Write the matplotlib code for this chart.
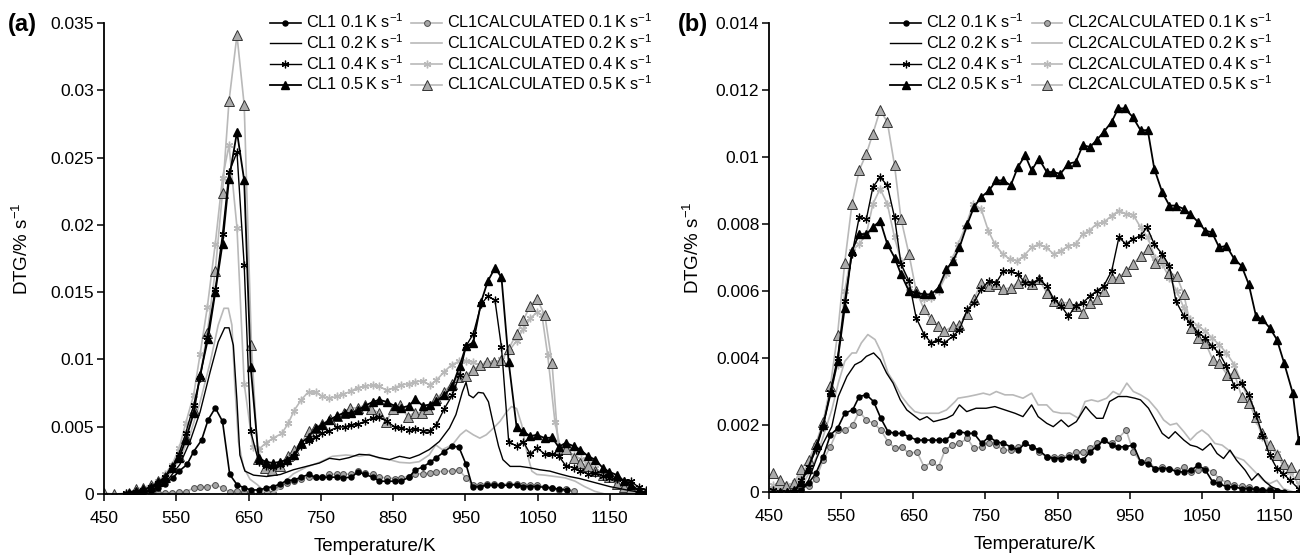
import matplotlib
matplotlib.use("Agg")
import matplotlib.pyplot as plt
import numpy as np
from matplotlib.ticker import FuncFormatter, MultipleLocator

plt.rcParams["font.family"] = ["Liberation Sans", "DejaVu Sans"]
plt.rcParams["mathtext.fontset"] = "custom"
plt.rcParams["mathtext.rm"] = "Liberation Sans"
plt.rcParams["mathtext.default"] = "regular"

# ---- data, DTG in units of 1e-3 %/s ----
# panel (a): CL1
cl1_01_T = [480, 490, 504, 515, 525, 534, 545, 554, 565, 574,
            585, 594, 604, 614, 624, 634, 644, 654, 665, 674,
            684, 694, 703, 713, 723, 733, 743, 752, 762, 772,
            781, 792, 802, 811, 822, 831, 841, 852, 861, 872,
            881, 891, 901, 910, 921, 931, 941, 951, 960, 970,
            980, 990, 1000, 1010, 1021, 1030, 1040, 1049, 1060, 1070,
            1080, 1090]
cl1_01_v = [0, 0.05, 0.15, 0.25, 0.45, 0.75, 1.2, 1.7, 2.2, 3.15,
            4.0, 5.5, 6.4, 5.4, 1.45, 0.7, 0.45, 0.3, 0.3, 0.45,
            0.55, 0.75, 1.0, 1.05, 1.25, 1.45, 1.25, 1.25, 1.25, 1.25,
            1.2, 1.25, 1.65, 1.45, 1.25, 0.95, 0.95, 0.95, 0.95, 1.25,
            1.8, 2.0, 2.35, 2.7, 3.15, 3.55, 3.5, 2.2, 0.5, 0.55,
            0.65, 0.65, 0.65, 0.65, 0.7, 0.55, 0.55, 0.55, 0.5, 0.45,
            0.35, 0.3]

cl1_02_T = [470, 495, 514, 537, 555, 569, 583, 597, 608, 617,
            623, 629, 634, 638, 645, 657, 675, 694, 712, 730,
            748, 762, 776, 789, 803, 817, 831, 845, 859, 873,
            886, 900, 914, 928, 937, 946, 951, 955, 961, 968,
            975, 982, 989, 996, 1002, 1012, 1026, 1039, 1053, 1067,
            1080, 1094, 1108, 1122, 1136, 1150, 1164, 1178, 1190, 1200]
cl1_02_v = [0, 0.1, 0.25, 0.95, 2.2, 3.9, 6.1, 9.1, 11.3, 12.35,
            12.35, 11.05, 6.9, 2.9, 1.7, 1.4, 1.3, 1.45, 1.8, 2.05,
            2.3, 2.65, 2.55, 2.7, 2.95, 2.9, 2.7, 2.55, 2.8, 2.65,
            2.9, 3.3, 3.9, 4.9, 5.9, 7.6, 8.3, 7.35, 7.15, 7.55,
            7.5, 6.85, 5.15, 3.55, 2.55, 2.05, 2.05, 1.95, 1.8, 1.7,
            1.5, 1.3, 1.15, 0.95, 0.75, 0.55, 0.4, 0.25, 0.15, 0.05]

cl1_04_T = [480, 494, 504, 515, 525, 534, 544, 554, 563, 574,
            583, 593, 604, 614, 623, 634, 644, 653, 664, 674,
            684, 694, 703, 713, 723, 733, 743, 752, 762, 772,
            783, 792, 802, 811, 822, 831, 841, 852, 861, 872,
            881, 891, 901, 910, 921, 932, 942, 951, 961, 972,
            981, 991, 1000, 1010, 1021, 1030, 1040, 1049, 1060, 1070,
            1079, 1089, 1100, 1109, 1120, 1130, 1140, 1149, 1160, 1170,
            1179, 1190, 1200]
cl1_04_v = [0.05, 0.15, 0.3, 0.5, 0.8, 1.3, 2.0, 3.0, 4.5, 6.6,
            8.6, 11.7, 15.2, 19.3, 23.9, 25.4, 17.0, 4.65, 2.4, 2.1,
            2.0, 2.15, 2.4, 2.8, 3.55, 3.95, 4.25, 4.5, 4.7, 4.95,
            5.0, 5.1, 5.2, 5.4, 5.65, 5.75, 5.4, 5.0, 4.9, 4.75,
            4.85, 4.7, 4.7, 5.15, 6.35, 7.35, 8.85, 11.0, 11.9, 14.1,
            14.7, 14.4, 10.9, 3.9, 3.55, 3.9, 2.95, 3.45, 2.95, 2.95,
            2.85, 2.1, 1.95, 1.7, 1.5, 1.55, 1.35, 1.2, 1.15, 0.95,
            0.95, 0.5, 0.3]

cl1_05_T = [485, 494, 504, 515, 525, 534, 544, 554, 563, 574,
            583, 594, 604, 614, 623, 634, 644, 653, 664, 674,
            684, 694, 703, 713, 723, 733, 743, 752, 762, 772,
            783, 792, 802, 811, 822, 831, 841, 852, 861, 872,
            881, 891, 901, 910, 921, 932, 942, 951, 961, 972,
            981, 991, 1000, 1010, 1021, 1030, 1040, 1049, 1060, 1070,
            1079, 1089, 1100, 1109, 1120, 1130, 1140, 1149, 1160, 1170,
            1179, 1190, 1200]
cl1_05_v = [0.1, 0.2, 0.35, 0.5, 0.9, 1.2, 1.9, 2.7, 4.0, 6.0,
            8.85, 11.55, 15.0, 18.6, 23.4, 26.9, 23.3, 9.45, 2.65, 2.4,
            2.3, 2.4, 2.55, 2.9, 3.8, 4.25, 4.9, 5.15, 5.5, 5.8,
            6.05, 6.0, 6.25, 6.55, 6.85, 7.0, 6.85, 6.55, 6.4, 6.55,
            7.05, 6.55, 6.65, 6.9, 7.35, 8.0, 9.5, 11.0, 11.25, 14.3,
            15.8, 16.8, 16.1, 9.8, 4.95, 4.65, 4.3, 4.4, 4.15, 4.2,
            3.5, 3.8, 3.55, 3.3, 2.8, 2.55, 1.95, 1.65, 1.4, 0.95,
            0.65, 0.3, 0.1]

cl1c_01_T = [485, 504, 515, 525, 534, 544, 554, 563, 574, 583,
             593, 604, 614, 624, 634, 644, 654, 665, 675, 684,
             693, 703, 713, 723, 733, 743, 752, 762, 772, 781,
             792, 802, 811, 822, 831, 841, 852, 861, 872, 881,
             891, 901, 910, 921, 931, 941, 951, 960, 970, 980,
             990, 1000, 1010, 1021, 1030, 1040, 1049, 1060, 1070, 1079,
             1089, 1100]
cl1c_01_v = [0.05, 0.05, 0.05, 0.05, 0.07, 0.07, 0.15, 0.15, 0.45, 0.5,
             0.55, 0.7, 0.45, 0.15, 0.25, 0.15, 0.05, 0, 0.15, 0.05,
             0.57, 0.8, 1.0, 1.15, 1.25, 1.25, 1.25, 1.5, 1.45, 1.5,
             1.45, 1.7, 1.55, 1.45, 1.25, 1.2, 1.15, 1.2, 1.3, 1.5,
             1.5, 1.55, 1.65, 1.7, 1.7, 1.8, 1.2, 0.7, 0.7, 0.75,
             0.75, 0.7, 0.75, 0.75, 0.65, 0.65, 0.7, 0.55, 0.45, 0.3,
             0.4, 0.2]

cl1c_02_T = [470, 495, 514, 537, 555, 569, 583, 597, 608, 616,
             622, 627, 631, 636, 643, 652, 662, 672, 681, 690,
             700, 712, 730, 748, 766, 785, 803, 817, 831, 845,
             859, 873, 886, 900, 909, 918, 932, 943, 951, 961,
             970, 979, 989, 998, 1007, 1014, 1021, 1028, 1035, 1042,
             1049, 1060, 1074, 1088, 1102, 1115, 1129, 1143]
cl1c_02_v = [0, 0.1, 0.3, 1.2, 2.55, 4.4, 6.85, 9.8, 12.55, 13.8,
             13.8, 12.55, 8.1, 3.9, 2.0, 1.1, 0.7, 0.2, 0.0, 0.3,
             0.9, 1.5, 2.0, 2.35, 2.8, 2.9, 2.8, 2.95, 2.65, 2.55,
             2.35, 2.3, 2.4, 2.9, 3.65, 3.3, 3.65, 4.4, 4.75, 4.4,
             4.15, 4.4, 4.9, 5.4, 6.1, 6.5, 6.35, 5.15, 3.15, 1.7,
             1.45, 1.4, 1.3, 1.2, 0.95, 0.55, 0.2, 0.0]

cl1c_04_T = [480, 494, 504, 514, 525, 534, 544, 554, 563, 574,
             583, 593, 604, 614, 623, 634, 644, 656, 664, 674,
             684, 696, 705, 713, 723, 733, 743, 752, 762, 772,
             781, 792, 801, 811, 822, 831, 841, 852, 861, 872,
             881, 891, 901, 910, 921, 931, 941, 951, 960, 970,
             980, 990, 1000, 1010, 1021, 1030, 1040, 1049, 1056, 1064,
             1074, 1082, 1090, 1100, 1110, 1120, 1130, 1140, 1150, 1160,
             1170, 1180, 1190]
cl1c_04_v = [0.05, 0.2, 0.3, 0.55, 0.95, 1.45, 2.15, 3.4, 5.25, 7.35,
             10.4, 13.9, 18.6, 23.5, 25.9, 19.8, 8.2, 3.5, 3.3, 3.8,
             4.15, 4.5, 5.25, 6.2, 7.0, 7.6, 7.55, 7.25, 7.1, 7.25,
             7.4, 7.65, 7.9, 8.0, 8.1, 8.0, 7.7, 7.9, 8.1, 8.2,
             8.35, 8.4, 8.1, 8.45, 9.1, 9.6, 9.85, 9.9, 9.8, 9.6,
             9.7, 9.8, 10.0, 10.6, 11.4, 12.25, 13.05, 13.5, 13.3, 10.3,
             5.35, 3.3, 3.3, 2.9, 2.6, 2.2, 1.9, 1.5, 1.3, 0.9,
             0.6, 0.45, 0.2]

cl1c_05_T = [450, 464, 485, 494, 504, 515, 525, 534, 544, 554,
             563, 574, 583, 593, 604, 614, 623, 634, 644, 654,
             663, 673, 683, 693, 704, 713, 723, 733, 742, 752,
             763, 772, 782, 791, 801, 811, 820, 830, 840, 850,
             860, 870, 880, 890, 899, 910, 920, 931, 940, 951,
             960, 970, 980, 990, 1000, 1010, 1021, 1030, 1040, 1049,
             1060, 1070, 1079, 1089, 1100, 1109, 1120, 1130, 1140, 1149,
             1160, 1170, 1179, 1190, 1200]
cl1c_05_v = [0.07, 0.0, 0.07, 0.4, 0.45, 0.7, 1.0, 1.25, 2.0, 2.8,
             4.15, 6.25, 8.8, 12.0, 16.6, 22.4, 29.2, 34.1, 28.9, 11.1,
             2.6, 1.9, 1.8, 2.1, 2.8, 3.3, 3.8, 4.65, 4.9, 5.2,
             5.55, 5.8, 6.05, 6.4, 6.4, 6.6, 6.3, 6.05, 5.35, 6.3,
             6.65, 5.75, 6.05, 6.05, 6.35, 7.15, 7.55, 8.2, 8.7, 8.8,
             9.2, 9.6, 9.8, 9.8, 9.95, 10.8, 11.9, 12.9, 14.0, 14.5,
             13.3, 9.7, 3.35, 3.35, 2.65, 2.3, 2.1, 1.7, 1.4, 1.25,
             0.75, 0.55, 0.45, 0.2, 0.15]

# panel (b): CL2
cl2_01_T = [485, 495, 505, 515, 525, 535, 545, 555, 566, 575,
            585, 595, 605, 615, 625, 634, 644, 655, 665, 676,
            685, 694, 704, 714, 725, 734, 745, 755, 765, 775,
            785, 795, 805, 815, 824, 835, 845, 855, 866, 875,
            885, 895, 904, 914, 925, 934, 944, 955, 965, 975,
            985, 995, 1005, 1015, 1025, 1035, 1045, 1055, 1065, 1074,
            1085, 1095, 1105, 1115, 1125, 1134, 1144, 1154, 1164]
cl2_01_v = [0, 0.07, 0.27, 0.56, 1.05, 1.7, 1.9, 2.35, 2.45, 2.85,
            2.9, 2.7, 2.2, 1.8, 1.75, 1.75, 1.65, 1.55, 1.55, 1.55,
            1.55, 1.55, 1.7, 1.8, 1.75, 1.75, 1.45, 1.65, 1.5, 1.45,
            1.35, 1.25, 1.45, 1.35, 1.25, 1.05, 1.0, 1.0, 1.05, 1.05,
            0.95, 1.2, 1.35, 1.55, 1.4, 1.35, 1.35, 1.4, 0.9, 0.85,
            0.7, 0.7, 0.7, 0.6, 0.6, 0.65, 0.8, 0.65, 0.3, 0.25,
            0.15, 0.15, 0.1, 0.1, 0.08, 0.05, 0.05, 0.04, 0.0]

cl2_02_T = [450, 485, 495, 505, 516, 525, 537, 546, 558, 569,
            578, 585, 595, 604, 613, 622, 632, 641, 650, 659,
            669, 678, 687, 696, 705, 714, 724, 737, 751, 763,
            777, 791, 802, 814, 823, 835, 844, 855, 865, 876,
            889, 897, 904, 913, 922, 934, 946, 957, 965, 976,
            985, 995, 1004, 1013, 1025, 1034, 1043, 1051, 1062, 1071,
            1080, 1089, 1098, 1110, 1119, 1128, 1138, 1147, 1158, 1172, 1186]
cl2_02_v = [0, 0, 0.06, 0.36, 1.0, 1.45, 1.95, 2.85, 3.45, 3.8,
            3.9, 4.05, 4.15, 3.95, 3.55, 3.25, 2.75, 2.45, 2.3, 2.15,
            2.25, 2.1, 2.15, 2.2, 2.3, 2.6, 2.4, 2.5, 2.5, 2.55,
            2.45, 2.35, 2.25, 2.6, 2.25, 2.05, 1.95, 2.15, 1.95, 2.1,
            2.55, 2.35, 2.2, 2.2, 2.7, 2.85, 2.85, 2.8, 2.75, 2.5,
            2.15, 1.75, 1.6, 1.8, 1.55, 1.4, 1.35, 1.25, 1.45, 1.15,
            1.0, 1.25, 0.95, 0.65, 0.35, 0.55, 0.3, 0.15, 0.05, 0, 0]

cl2_04_T = [455, 465, 475, 486, 495, 505, 515, 525, 535, 545,
            555, 565, 575, 585, 594, 604, 614, 624, 633, 644,
            654, 665, 675, 684, 693, 705, 714, 725, 734, 744,
            755, 765, 775, 785, 795, 805, 815, 824, 835, 845,
            855, 865, 875, 885, 895, 904, 914, 925, 935, 945,
            954, 965, 974, 984, 995, 1005, 1014, 1025, 1034, 1045,
            1055, 1064, 1074, 1084, 1095, 1105, 1115, 1125, 1134, 1144,
            1154, 1163, 1172, 1184]
cl2_04_v = [0.05, 0, 0, 0, 0.35, 0.75, 1.25, 1.95, 3.0, 4.0,
            5.7, 7.1, 8.2, 8.15, 9.1, 9.4, 9.15, 8.2, 6.8, 6.3,
            5.2, 4.7, 4.45, 4.55, 4.45, 4.65, 4.85, 5.45, 5.65, 6.05,
            6.3, 6.25, 6.6, 6.6, 6.5, 6.25, 6.25, 6.35, 6.15, 5.75,
            5.55, 5.25, 5.55, 5.65, 5.85, 6.0, 6.15, 6.6, 7.6, 7.4,
            7.55, 7.65, 7.9, 7.4, 7.1, 6.75, 5.7, 5.25, 5.05, 4.75,
            4.6, 4.35, 4.15, 3.75, 3.15, 3.25, 2.9, 2.3, 1.7, 1.1,
            0.7, 0.55, 0.35, 0.1]

cl2_05_T = [455, 465, 475, 485, 495, 504, 516, 525, 536, 545,
            555, 565, 575, 585, 594, 604, 614, 624, 633, 644,
            654, 665, 675, 685, 696, 705, 714, 725, 734, 744,
            755, 765, 775, 785, 795, 805, 814, 824, 835, 844,
            854, 865, 875, 885, 895, 904, 914, 925, 934, 943,
            954, 965, 975, 984, 995, 1005, 1014, 1025, 1034, 1045,
            1055, 1064, 1074, 1084, 1095, 1105, 1115, 1125, 1134, 1144,
            1154, 1164, 1176, 1184]
cl2_05_v = [0, 0, 0, 0.05, 0.3, 0.7, 1.4, 2.0, 3.0, 3.9,
            5.5, 7.2, 7.7, 7.7, 7.9, 8.1, 7.4, 7.0, 6.5, 6.0,
            5.95, 5.9, 5.9, 6.1, 6.65, 6.9, 7.3, 8.0, 8.5, 8.8,
            9.0, 9.3, 9.3, 9.15, 9.7, 10.05, 9.6, 9.95, 9.55, 9.55,
            9.5, 9.8, 9.85, 10.35, 10.3, 10.5, 10.75, 11.05, 11.45, 11.45,
            11.2, 10.8, 10.8, 9.65, 8.95, 8.55, 8.55, 8.45, 8.3, 8.05,
            7.8, 7.75, 7.3, 7.35, 6.95, 6.75, 6.2, 5.25, 5.15, 4.9,
            4.55, 3.85, 2.95, 1.55]

cl2c_01_T = [455, 465, 475, 485, 495, 505, 515, 525, 535, 545,
             555, 566, 575, 585, 595, 605, 615, 625, 634, 644,
             655, 665, 676, 685, 694, 704, 714, 725, 734, 745,
             755, 765, 775, 785, 795, 805, 815, 824, 835, 845,
             855, 866, 875, 885, 895, 904, 914, 925, 934, 945,
             955, 965, 975, 985, 995, 1005, 1015, 1025, 1035, 1045,
             1055, 1065, 1074, 1085, 1095, 1105, 1115, 1125, 1134, 1144, 1154]
cl2c_01_v = [0.1, 0.05, 0.05, 0.05, 0.1, 0.17, 0.4, 0.95, 1.35, 1.85,
             1.85, 2.0, 2.4, 2.15, 2.05, 1.85, 1.5, 1.3, 1.35, 1.15,
             1.2, 0.75, 0.9, 0.75, 1.25, 1.4, 1.45, 1.6, 1.3, 1.35,
             1.45, 1.4, 1.25, 1.25, 1.35, 1.45, 1.35, 1.2, 1.05, 1.05,
             1.05, 1.1, 1.2, 1.2, 1.3, 1.45, 1.55, 1.45, 1.6, 1.85,
             1.2, 0.9, 0.95, 0.7, 0.75, 0.7, 0.65, 0.75, 0.6, 0.65,
             0.7, 0.6, 0.4, 0.28, 0.2, 0.18, 0.16, 0.1, 0.05, 0.1, 0.04]

cl2c_02_T = [450, 495, 505, 516, 525, 537, 546, 555, 565, 571,
             578, 587, 597, 606, 615, 624, 634, 643, 652, 661,
             673, 685, 696, 708, 712, 726, 737, 747, 756, 765,
             777, 788, 802, 814, 823, 835, 844, 855, 867, 879,
             888, 897, 906, 918, 927, 936, 946, 955, 965, 976,
             988, 997, 1006, 1015, 1025, 1034, 1043, 1050, 1059, 1068,
             1078, 1087, 1096, 1108, 1117, 1126, 1135, 1144, 1154, 1163, 1177]
cl2c_02_v = [0.1, 0.15, 0.55, 1.05, 1.65, 2.45, 3.25, 3.9, 4.15, 4.15,
             4.45, 4.7, 4.55, 4.15, 3.55, 3.25, 2.85, 2.6, 2.4, 2.35,
             2.35, 2.35, 2.45, 2.7, 2.8, 2.85, 2.9, 2.95, 2.9, 3.0,
             2.9, 2.9, 2.8, 2.95, 2.6, 2.6, 2.4, 2.35, 2.35, 2.2,
             2.7, 2.75, 2.7, 2.8, 3.0, 2.9, 3.25, 3.0, 2.9, 2.75,
             2.45, 2.15, 2.0, 2.05, 1.8, 1.55, 1.75, 1.85, 1.7, 1.45,
             1.4, 1.25, 1.05, 0.95, 0.75, 0.55, 0.35, 0.25, 0.35, 0.1, 0]

cl2c_04_T = [455, 465, 475, 486, 495, 505, 515, 525, 535, 545,
             555, 565, 575, 585, 594, 604, 614, 624, 633, 644,
             654, 665, 675, 685, 696, 705, 712, 722, 733, 744,
             754, 763, 774, 784, 794, 803, 814, 824, 834, 845,
             855, 865, 875, 885, 894, 904, 914, 925, 935, 945,
             955, 965, 975, 985, 995, 1005, 1015, 1025, 1034, 1045,
             1055, 1064, 1074, 1084, 1095, 1105, 1115, 1125, 1134, 1144,
             1154, 1163, 1172, 1184]
cl2c_04_v = [0.2, 0.15, 0.2, 0.3, 0.5, 0.9, 1.4, 2.0, 3.0, 3.8,
             6.0, 7.2, 7.4, 7.7, 8.6, 9.05, 8.6, 7.6, 6.9, 6.1,
             5.9, 5.75, 5.8, 6.0, 6.5, 7.0, 7.4, 7.9, 8.6, 8.45,
             7.8, 7.4, 7.1, 6.95, 6.9, 7.05, 7.3, 7.4, 7.3, 7.1,
             7.2, 7.35, 7.4, 7.7, 7.8, 8.0, 8.05, 8.25, 8.4, 8.3,
             8.27, 7.9, 7.6, 7.0, 6.8, 6.4, 6.0, 5.5, 5.15, 4.95,
             4.8, 4.6, 4.4, 4.15, 3.8, 3.25, 2.75, 2.15, 1.65, 1.35,
             1.15, 0.75, 0.6, 0.25]

cl2c_05_T = [455, 465, 474, 485, 495, 505, 515, 525, 535, 545,
             555, 565, 575, 585, 594, 604, 614, 624, 633, 644,
             654, 665, 675, 684, 693, 705, 714, 725, 734, 744,
             755, 765, 775, 785, 795, 805, 815, 824, 835, 845,
             855, 866, 875, 885, 895, 904, 914, 925, 935, 945,
             955, 965, 975, 985, 995, 1005, 1015, 1025, 1035, 1045,
             1055, 1065, 1074, 1085, 1095, 1105, 1115, 1125, 1134, 1144,
             1154, 1164, 1174, 1184]
cl2c_05_v = [0.57, 0.35, 0.17, 0.27, 0.7, 0.96, 1.44, 2.1, 3.15, 4.7,
             6.85, 8.6, 9.6, 10.1, 10.7, 11.4, 11.05, 9.75, 8.15, 7.1,
             6.0, 5.45, 5.15, 4.95, 4.8, 4.95, 5.0, 5.3, 5.75, 6.25,
             6.15, 6.2, 6.05, 6.1, 6.25, 6.35, 6.2, 6.35, 5.95, 5.7,
             5.65, 5.65, 5.55, 5.35, 5.65, 5.75, 6.0, 6.4, 6.4, 6.6,
             6.8, 7.05, 7.25, 6.85, 7.0, 6.55, 6.45, 5.9, 4.9, 4.6,
             4.45, 3.95, 3.85, 3.5, 3.55, 2.85, 2.65, 2.25, 1.75, 1.4,
             1.1, 0.85, 0.75, 0.55]

rates = ["0.1", "0.2", "0.4", "0.5"]

BLACK = "black"
LGRAY = "#b9b9b9"

# styles per heating rate, measured (black) and calculated (grey)
exp_styles = [
    dict(color=BLACK, marker="o", ms=3.6, mfc=BLACK, mec=BLACK, lw=1.2),
    dict(color=BLACK, marker=None, lw=1.0),
    dict(color=BLACK, marker=(6, 2, 0), ms=5.5, mfc=BLACK, mec=BLACK, mew=0.9, lw=1.0),
    dict(color=BLACK, marker="^", ms=5.5, mfc=BLACK, mec=BLACK, lw=1.3),
]
calc_styles = [
    dict(color=LGRAY, marker="o", ms=4.2, mfc="#a6a6a6", mec="#4d4d4d", mew=0.7, lw=1.2),
    dict(color=LGRAY, marker=None, lw=1.2),
    dict(color=LGRAY, marker=(6, 2, 0), ms=5.5, mfc=LGRAY, mec=LGRAY, mew=1.0, lw=1.2),
    dict(color=LGRAY, marker="^", ms=7.5, mfc="#ababab", mec="#333333", mew=0.7, lw=1.2),
]


def draw(ax, exp, calc, name):
    handles = []
    for (T, v), st, r in zip(exp, exp_styles, rates):
        h, = ax.plot(T, np.array(v) * 1e-3, label=f"{name} {r}$\\,$K s$^{{-1}}$", **st)
        handles.append(h)
    for (T, v), st, r in zip(calc, calc_styles, rates):
        h, = ax.plot(T, np.array(v) * 1e-3,
                     label=f"{name}CALCULATED {r}$\\,$K s$^{{-1}}$", zorder=1.9, **st)
        handles.append(h)
    for s in ["top", "right"]:
        ax.spines[s].set_visible(False)
    for s in ["left", "bottom"]:
        ax.spines[s].set_linewidth(1.3)
    ax.tick_params(direction="out", length=5, width=1.1, labelsize=12.5, pad=2)
    ax.tick_params(axis="x", pad=7)
    ax.yaxis.set_major_formatter(FuncFormatter(lambda y, p: f"{y:g}"))
    ax.set_xlabel("Temperature/K", fontsize=13.5, labelpad=9)
    ax.set_ylabel("DTG/% s$^{-1}$", fontsize=13.5)
    return handles


fig = plt.figure(figsize=(13, 5.55), dpi=100)
axA = fig.add_axes([104 / 1300, (555 - 494) / 555, 542 / 1300, 471 / 555])
axB = fig.add_axes([769 / 1300, (555 - 492) / 555, 531 / 1300, 469 / 555])

hA = draw(axA,
          [(cl1_01_T, cl1_01_v), (cl1_02_T, cl1_02_v), (cl1_04_T, cl1_04_v), (cl1_05_T, cl1_05_v)],
          [(cl1c_01_T, cl1c_01_v), (cl1c_02_T, cl1c_02_v), (cl1c_04_T, cl1c_04_v), (cl1c_05_T, cl1c_05_v)],
          "CL1")
axA.set_xlim(450, 1200)
axA.set_ylim(0, 0.035)
axA.yaxis.set_major_locator(MultipleLocator(0.005))
axA.set_xticks(range(450, 1151, 100))
axA.yaxis.set_label_coords(-0.133, 0.52)

hB = draw(axB,
          [(cl2_01_T, cl2_01_v), (cl2_02_T, cl2_02_v), (cl2_04_T, cl2_04_v), (cl2_05_T, cl2_05_v)],
          [(cl2c_01_T, cl2c_01_v), (cl2c_02_T, cl2c_02_v), (cl2c_04_T, cl2c_04_v), (cl2c_05_T, cl2c_05_v)],
          "CL2")
axB.set_xlim(450, 1186)
axB.set_ylim(0, 0.014)
axB.yaxis.set_major_locator(MultipleLocator(0.002))
axB.set_xticks(range(450, 1151, 100))
axB.yaxis.set_label_coords(-0.125, 0.52)

for ax, h, x0 in [(axA, hA, 0.306), (axB, hB, 0.228)]:
    ax.legend(handles=h, ncol=2, loc="upper left", bbox_to_anchor=(x0, 1.022),
              frameon=False, fontsize=11.7, numpoints=1, handlelength=1.9,
              handletextpad=0.3, columnspacing=0.5, labelspacing=0.12,
              borderaxespad=0, borderpad=0)

fig.text(8 / 1300, 1 - 24 / 555, "(a)", fontsize=17, fontweight="bold", va="center")
fig.text(678 / 1300, 1 - 24 / 555, "(b)", fontsize=17, fontweight="bold", va="center")

fig.savefig("out.png", dpi=100)
